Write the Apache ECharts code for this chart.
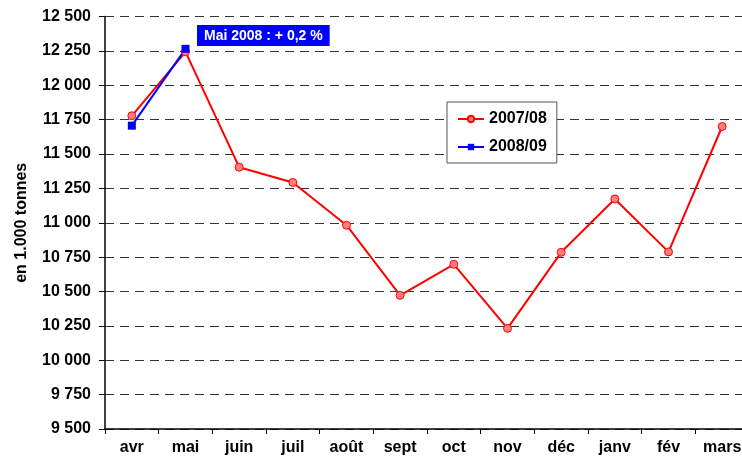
<!DOCTYPE html>
<html>
<head>
<meta charset="utf-8">
<script src="https://cdn.jsdelivr.net/npm/echarts@6/dist/echarts.min.js"></script>
<style>
  html, body { margin: 0; padding: 0; background: #fff; }
  #chart { width: 742px; height: 467px; }
</style>
</head>
<body>
<div id="chart"></div>
<script>
  // mois de la campagne
  const months = ['avr', 'mai', 'juin', 'juil', 'août', 'sept', 'oct', 'nov', 'déc', 'janv', 'fév', 'mars']
  // en 1.000 tonnes
  const s2007 = [11778, 12243, 11404, 11293, 10982, 10472, 10698, 10232, 10785, 11173, 10788, 11700]
  const s2008 = [11706, 12265]
  const note = 'Mai 2008 : + 0,2 %'

  const chart = echarts.init(document.getElementById('chart'))
  const fmt = v => String(v).replace(/\B(?=(\d{3})+(?!\d))/g, ' ')
  const font = 'Liberation Sans, Arial, sans-serif'

  let option = {
    animation: false,
    textStyle: { fontFamily: font },
    // la zone de tracé dépasse un peu à droite, comme l'original
    grid: { left: 105, width: 644, top: 16.5, bottom: 38, outerBoundsMode: 'none', containLabel: false },
    legend: {
      orient: 'vertical',
      left: 447,
      top: 102,
      width: 113,
      padding: [9, 10, 8, 10],
      itemGap: 12,
      itemWidth: 26,
      itemHeight: 8,
      backgroundColor: '#fff',
      borderColor: '#555',
      borderWidth: 1,
      textStyle: { fontFamily: font, fontWeight: 'bold', fontSize: 16, color: '#000' },
      data: ['2007/08', '2008/09']
    },
    xAxis: {
      type: 'category',
      data: months,
      boundaryGap: true,
      axisLine: { lineStyle: { color: '#000', width: 1.5 } },
      axisTick: { show: true, length: 5, lineStyle: { color: '#000' } },
      axisLabel: { color: '#000', fontWeight: 'bold', fontSize: 16, margin: 11, fontFamily: font },
      splitLine: { show: false }
    },
    yAxis: {
      type: 'value',
      min: 9500,
      max: 12500,
      interval: 250,
      name: 'en 1.000 tonnes',
      nameLocation: 'middle',
      nameGap: 75,
      nameTextStyle: { color: '#000', fontWeight: 'bold', fontSize: 16, fontFamily: font },
      axisLine: { show: true, lineStyle: { color: '#000', width: 1.5 } },
      axisTick: { show: true, length: 6, lineStyle: { color: '#000' } },
      axisLabel: { color: '#000', fontWeight: 'bold', fontSize: 16, margin: 14, formatter: fmt, fontFamily: font },
      splitLine: { show: true, lineStyle: { color: '#333', type: [9, 6], width: 1 } }
    },
    series: [
      {
        name: '2007/08',
        type: 'line',
        data: s2007,
        symbol: 'circle',
        symbolSize: 8,
        lineStyle: { color: '#ff0000', width: 2 },
        itemStyle: { color: '#ff7f7f', borderColor: '#ff0000', borderWidth: 1 }
      },
      {
        name: '2008/09',
        type: 'line',
        data: s2008,
        symbol: 'rect',
        symbolSize: 8,
        z: 3,
        lineStyle: { color: '#0000ff', width: 2 },
        itemStyle: { color: '#0000ff', borderColor: '#0000ff', borderWidth: 0 }
      }
    ],
    graphic: [
      {
        type: 'text',
        left: 197,
        top: 25,
        style: {
          text: note,
          fill: '#fff',
          font: 'bold 14px ' + font,
          backgroundColor: '#0000ff',
          padding: [4, 7, 3, 7]
        }
      }
    ]
  }
  chart.setOption(option)
</script>
</body>
</html>
